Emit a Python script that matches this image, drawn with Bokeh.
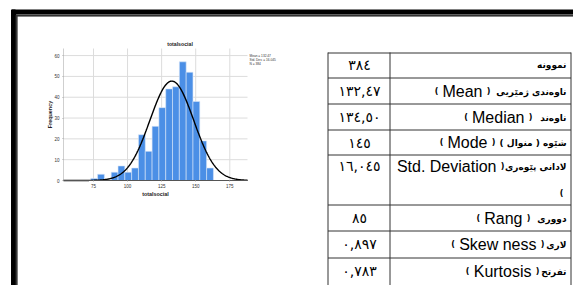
import numpy as np
from bokeh.plotting import figure
from bokeh.models import Range1d, ColumnDataSource, FixedTicker, LinearAxis
from bokeh.embed import file_html
from bokeh.resources import INLINE
from bokeh.core.properties import value

# ---------------- data ----------------
bin_lefts = [73, 78, 83, 88, 93, 98, 103, 108, 113, 118, 123, 128, 133, 138, 143, 148, 153, 158]
counts = [1, 3, 0, 4, 7, 4, 6, 22, 14, 26, 35, 44, 45, 57, 52, 38, 19, 6]
bin_width = 5
mean_v = 132.47
sd_v = 16.045
n_v = 384
x_ticks = [75, 100, 125, 150, 175]
y_ticks = [0, 10, 20, 30, 40, 50, 60]
legend_lines = ["Mean = 132.47", "Std. Dev. = 16.045", "N = 384"]

row_ar = ["نموونه", "ناوەندی ژمێریی", "ناوەند", "شێوە ( منوال )", "لادانی پێوەری",
          "دووری", "لاری", "تفرتح"]
row_en = ["", "Mean", "Median", "Mode", "Std. Deviation", "Rang", "Skew ness", "Kurtosis"]
row_val = ["٣٨٤", "١٣٢,٤٧", "١٣٤,٥٠", "١٤٥", "١٦,٠٤٥", "٨٥", "٠,٨٩٧", "٠,٧٨٣"]

# ---------------- geometry (page pixels) ----------------
W, H = 573, 285
p = figure(width=W, height=H, x_range=Range1d(0, W), y_range=Range1d(H, 0),
           output_backend="svg", toolbar_location=None, title=None,
           x_axis_location=None, y_axis_location=None,
           min_border=0, outline_line_color=None)
p.grid.visible = False

# histogram scales: data window [53,188] x [0,63.4] placed in the page box below
fx0, fx1, fy0, fy1 = 63, 247, 48, 180
hx_lo, hx_hi = 53, 188
hy_lo, hy_hi = 0, 63.4
pxu = (fx1 - fx0) / (hx_hi - hx_lo)
pyu = (fy1 - fy0) / (hy_hi - hy_lo)
p.extra_x_ranges = {"hx": Range1d(hx_lo - fx0 / pxu, hx_hi + (W - fx1) / pxu)}
p.extra_y_ranges = {"hy": Range1d(hy_lo - (H - fy1) / pyu, hy_hi + fy0 / pyu)}
HK = dict(x_range_name="hx", y_range_name="hy")

# grid
grid_c = "#dcdcdc"
p.segment(x0=x_ticks, x1=x_ticks, y0=[hy_lo] * len(x_ticks), y1=[hy_hi] * len(x_ticks),
          line_color=grid_c, line_width=1, **HK)
p.segment(x0=[hx_lo] * len(y_ticks), x1=[hx_hi] * len(y_ticks), y0=y_ticks, y1=y_ticks,
          line_color=grid_c, line_width=1, **HK)
p.segment(x0=[hx_lo], x1=[hx_lo], y0=[hy_lo], y1=[hy_hi], line_color="#cfcfcf",
          line_width=1, **HK)

src = ColumnDataSource(dict(left=bin_lefts,
                            right=[b + bin_width for b in bin_lefts],
                            top=counts))
p.quad(left="left", right="right", bottom=0, top="top", source=src,
       fill_color="#4b8fe6", line_color="#d8e6f8", line_width=0.6, **HK)
xs = np.linspace(hx_lo, hx_hi, 400)
ys = n_v * bin_width / (sd_v * np.sqrt(2 * np.pi)) * np.exp(-0.5 * ((xs - mean_v) / sd_v) ** 2)
p.line(xs, ys, line_color="black", line_width=1.4, **HK)
p.segment(x0=[hx_lo], x1=[hx_hi], y0=[0], y1=[0], line_color="#555555", line_width=1, **HK)

def style_axis(ax):
    ax.major_label_text_font = "Liberation Sans"
    ax.major_label_text_font_size = "4.5px"
    ax.major_label_text_color = "#333333"
    ax.major_tick_in = 0
    ax.major_tick_out = 1
    ax.major_tick_line_color = "#aaaaaa"
    ax.minor_tick_line_color = None
    ax.axis_line_color = None

xax = LinearAxis(fixed_location=0, ticker=FixedTicker(ticks=x_ticks), major_label_standoff=2, **HK)
yax = LinearAxis(fixed_location=hx_lo, ticker=FixedTicker(ticks=y_ticks), major_label_standoff=3, **HK)
style_axis(xax)
style_axis(yax)
p.add_layout(xax, "below")
p.add_layout(yax, "left")

def txt(xs_, ys_, texts, align, font, size, style="normal", color="black", angle=0):
    p.text(x=xs_, y=ys_, text=texts, text_align=align, text_baseline="middle",
           text_font=value(font), text_font_size=size, text_font_style=style,
           text_color=color, angle=angle)

txt([179.5], [43], ["totalsocial"], "center", "Liberation Sans", "5.2px", "bold", "#222222")
txt([155], [193], ["totalsocial"], "center", "Liberation Sans", "5.4px", "bold", "#222222")
txt([49], [114], ["Frequency"], "center", "Liberation Sans", "5.4px", "bold", "#222222", np.pi / 2)
txt([249] * 3, [55.3, 59.3, 63.3], legend_lines, "left", "Liberation Sans", "3.2px", "normal", "#333333")

# ---- page frame (double line) ----
p.quad(left=[11, 15.5, 11, 15.6], right=[W, W, 15, 16.6],
       top=[9.5, 14.6, 9.5, 14.6], bottom=[13.5, 15.6, H, H],
       color=["black", "#333333", "black", "#333333"])

# ---- table ----
t_cols = [327.5, 389.5, 570.5]
row_lines = [52.5, 77.5, 103.5, 129.5, 154.5, 204.5, 230.5, 257.5]
line_color = "#333333"
p.segment(x0=[t_cols[0]] * len(row_lines), x1=[t_cols[-1]] * len(row_lines),
          y0=row_lines, y1=row_lines, line_color=line_color, line_width=1)
p.segment(x0=t_cols, x1=t_cols, y0=[52] * 3, y1=[H] * 3, line_color=line_color, line_width=1)

text_y = [64, 91, 117, 142, 166, 218, 244, 271]
num_y = [64, 90, 116, 142, 165, 217, 243, 270]

# Arabic labels (bold), right aligned inside the right column
txt([566] * len(row_ar), text_y, ["\u202b" + s + "\u202c" for s in row_ar],
    "right", "DejaVu Sans", "9px", "bold")

# Latin words with small parentheses around them
en_rx = [0, 482, 524, 487, 496, 522, 536, 531]
en_w = [0, 40, 52.5, 40, 99.6, 38.2, 77.4, 57.8]
en_idx = [i for i, s in enumerate(row_en) if s]
txt([en_rx[i] for i in en_idx], [text_y[i] for i in en_idx], [row_en[i] for i in en_idx],
    "right", "Liberation Sans", "16px")
par_idx = [i for i in en_idx if i != 4]
txt([en_rx[i] - en_w[i] - 6 for i in par_idx], [text_y[i] for i in par_idx],
    ["("] * len(par_idx), "center", "DejaVu Sans", "8px", "bold")
txt([en_rx[i] + 6 for i in en_idx], [text_y[i] for i in en_idx],
    [")"] * len(en_idx), "center", "DejaVu Sans", "8px", "bold")
txt([561], [193], ["("], "center", "DejaVu Sans", "8px", "bold")

# values
txt([359] * len(row_val), num_y, row_val, "center", "DejaVu Sans", "14px")

open("out.html", "w").write(file_html(p, INLINE))
